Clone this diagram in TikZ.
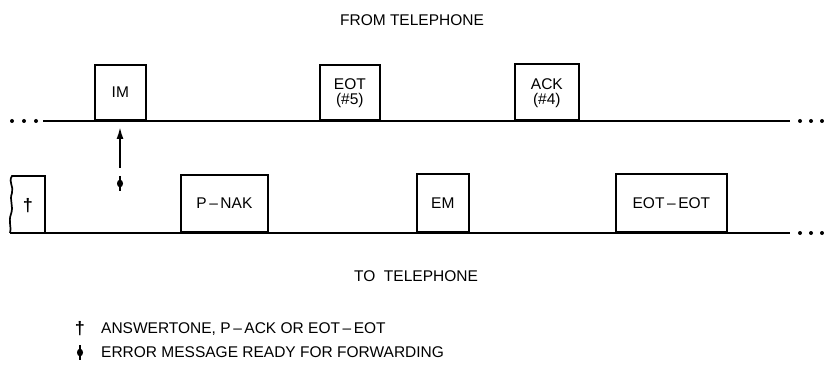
\documentclass[tikz,border=0pt]{standalone}
\usepackage{fontspec}
\setmainfont{Liberation Sans}
\usetikzlibrary{arrows.meta}
\begin{document}
\begin{tikzpicture}[x=1pt,y=-1pt,
  lbl/.style={font=\fontsize{15.5}{15}\selectfont, align=center, inner sep=0pt},
  dagsym/.style={font=\fontsize{18}{18}\selectfont\bfseries, inner sep=0pt},
  msg/.style={draw, line width=1.7pt, inner sep=0pt, anchor=south west},
  base/.style={line width=2pt},
  dotstyle/.style={fill, circle, inner sep=0pt, minimum size=4pt},
  errsym/.pic={
    \draw[line width=1.6pt] (0,-7) -- (0,8);
    \fill (0,0.5) ellipse [x radius=3pt, y radius=3.8pt];
  }]
\useasboundingbox (0,0) rectangle (824,366);
% titles
\node[lbl] (from) at (412,20) {FROM TELEPHONE};
\node[lbl] (to) at (416,276) {TO \ TELEPHONE};
% top line
\node[dotstyle] (d1) at (12,121) {};
\node[dotstyle] (d2) at (24,121) {};
\node[dotstyle] (d3) at (36,121) {};
\coordinate (tl) at (43,121);
\coordinate (tr) at (790,121);
\node[dotstyle] (d4) at (800,121) {};
\node[dotstyle] (d5) at (811,121) {};
\node[dotstyle] (d6) at (822,121) {};
\draw[base] (tl) -- (tr);
\node[msg, minimum width=51pt, minimum height=55pt] (im) at (94,121) {};
\node[lbl] at (im.center) {IM};
\node[msg, minimum width=60pt, minimum height=55pt] (eot) at (319,121) {};
\node[lbl] at ([yshift=-1pt]eot.center) {EOT\\(\#5)};
\node[msg, minimum width=64pt, minimum height=56pt] (ack) at (514,121) {};
\node[lbl] at ([yshift=-1pt]ack.center) {ACK\\(\#4)};
% arrow
\coordinate (as) at (120,168);
\coordinate (ae) at (120,127);
\draw[line width=1.8pt, -{Latex[length=12pt,width=7pt]}] (as) -- (ae);
\pic at (120,183) {errsym};
% bottom line
\coordinate (bl) at (10,233);
\coordinate (br) at (790,233);
\draw[base] (bl) -- (br);
\node[dotstyle] (e4) at (800,233) {};
\node[dotstyle] (e5) at (811,233) {};
\node[dotstyle] (e6) at (822,233) {};
\draw[line width=1.7pt] (45,233) -- (45,176) -- (12,176)
  .. controls (8,182) and (14,186) .. (12,193)
  .. controls (9,200) and (14,206) .. (11,214)
  .. controls (8,222) and (12,228) .. (10,233);
\node[dagsym] (dag) at (28,206) {†};
\node[msg, minimum width=87pt, minimum height=57pt] (pnak) at (180,233) {};
\node[lbl] at (pnak.center) {P\,–\,NAK};
\node[msg, minimum width=52pt, minimum height=58pt] (em) at (416,233) {};
\node[lbl] at (em.center) {EM};
\node[msg, minimum width=111pt, minimum height=58pt] (ee) at (615,233) {};
\node[lbl] at (ee.center) {EOT\,–\,EOT};
% legend
\node[dagsym] (l1s) at (80,329) {†};
\node[lbl, anchor=west] (l1) at (101,329) {ANSWERTONE, P\,–\,ACK OR EOT\,–\,EOT};
\pic at (80,352) {errsym};
\node[lbl, anchor=west] (l2) at (101,352) {ERROR MESSAGE READY FOR FORWARDING};
\end{tikzpicture}
\end{document}
